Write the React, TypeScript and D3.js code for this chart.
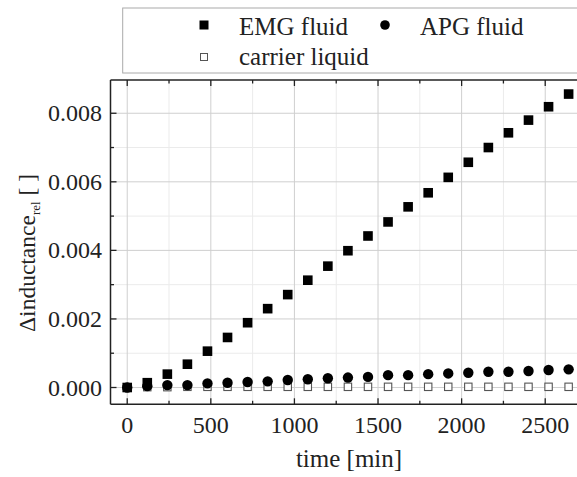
import React from "react";
import * as d3 from "d3";

const times = [0, 120, 240, 360, 480, 600, 720, 840, 960, 1080, 1200, 1320, 1440, 1560, 1680, 1800, 1920, 2040, 2160, 2280, 2400, 2520, 2640];
const emgFluid = [0, 0.00014, 0.00039, 0.00068, 0.00106, 0.00146, 0.00189, 0.0023, 0.00271, 0.00313, 0.00354, 0.00399, 0.00442, 0.00483, 0.00527, 0.00568, 0.00613, 0.00657, 0.007, 0.00743, 0.0078, 0.00819, 0.00856];
const apgFluid = [0, 0.00004, 0.00007, 0.00007, 0.00012, 0.00014, 0.00016, 0.00018, 0.00022, 0.00024, 0.00027, 0.00029, 0.00031, 0.00036, 0.00036, 0.00039, 0.00041, 0.00043, 0.00046, 0.00046, 0.00048, 0.00051, 0.00053];
const carrierLiquid = [0, 0.00001, 0.00001, 0.00002, 0.00002, 0.00002, 0.00002, 0.00002, 0.00002, 0.00002, 0.00002, 0.00002, 0.00002, 0.00002, 0.00002, 0.00002, 0.00002, 0.00002, 0.00002, 0.00002, 0.00002, 0.00002, 0.00002];
const xTicks = [0, 500, 1000, 1500, 2000, 2500];
const yTicks = [0, 0.002, 0.004, 0.006, 0.008];
const legendLabels = ["EMG fluid", "APG fluid", "carrier liquid"];

const FONT = "'Liberation Serif', 'Times New Roman', serif";

export default function App() {
  const W = 577, H = 477;
  const left = 110.5, top = 80, bottom = 404.3;
  const x = d3.scaleLinear().domain([-100, 2800]).range([left, left + 2900 * 0.1672]);
  const y = d3.scaleLinear().domain([-0.00049, 0.00897]).range([bottom, top]);
  const right = x(2800);

  const xMinor = d3.range(0, 2800, 250);
  const yMinor = d3.range(0, 0.009, 0.001);
  const isMajorX = (v: number) => Math.abs(v % 500) < 1e-6;
  const isMajorY = (v: number) => Math.abs(Math.round(v * 1000) % 2) === 0;

  const sq = 9.6;
  const osq = 7.4;

  return (
    <svg width={W} height={H} style={{ position: "absolute", left: 0, top: 0, background: "#fff" }} fontFamily={FONT}>
      <rect x={0} y={0} width={W} height={H} fill="#fff" />
      {/* minor grid */}
      {xMinor.filter((v) => !isMajorX(v)).map((v) => (
        <line key={"xm" + v} x1={x(v)} x2={x(v)} y1={top} y2={bottom} stroke="#ebebeb" strokeWidth={1} />
      ))}
      {yMinor.filter((v) => !isMajorY(v)).map((v) => (
        <line key={"ym" + v} x1={left} x2={right} y1={y(v)} y2={y(v)} stroke="#ebebeb" strokeWidth={1} />
      ))}
      {/* major grid */}
      {xTicks.map((v) => (
        <line key={"xg" + v} x1={x(v)} x2={x(v)} y1={top} y2={bottom} stroke="#cfcfcf" strokeWidth={1} />
      ))}
      {yTicks.map((v) => (
        <line key={"yg" + v} x1={left} x2={right} y1={y(v)} y2={y(v)} stroke="#cfcfcf" strokeWidth={1} />
      ))}
      {/* ticks */}
      {xMinor.map((v) => {
        const len = isMajorX(v) ? 6 : 3.5;
        return (
          <g key={"xt" + v}>
            <line x1={x(v)} x2={x(v)} y1={bottom} y2={bottom - len} stroke="#222" strokeWidth={1.3} />
            <line x1={x(v)} x2={x(v)} y1={top} y2={top + len} stroke="#222" strokeWidth={1.3} />
          </g>
        );
      })}
      {yMinor.map((v) => {
        const len = isMajorY(v) ? 6 : 3.5;
        return <line key={"yt" + v} x1={left} x2={left + len} y1={y(v)} y2={y(v)} stroke="#222" strokeWidth={1.3} />;
      })}
      {/* frame */}
      <line x1={left} x2={left} y1={top} y2={bottom} stroke="#222" strokeWidth={1.5} />
      <line x1={left} x2={right} y1={bottom} y2={bottom} stroke="#222" strokeWidth={1.5} />
      <line x1={left} x2={right} y1={top} y2={top} stroke="#222" strokeWidth={1.5} />
      {/* tick labels */}
      {xTicks.map((v) => (
        <text key={"xl" + v} x={x(v)} y={433} textAnchor="middle" fontSize={24} fill="#222">{v}</text>
      ))}
      {yTicks.map((v) => (
        <text key={"yl" + v} x={102} y={y(v) + 8} textAnchor="end" fontSize={24} fill="#222">{d3.format(".3f")(v)}</text>
      ))}
      {/* axis titles */}
      <text x={349} y={467} textAnchor="middle" fontSize={25} fill="#222">time [min]</text>
      <text transform={`translate(35, 253) rotate(-90)`} textAnchor="middle" fontSize={23.5} fill="#222">
        Δinductance<tspan fontSize={13} dy={5}>rel</tspan><tspan dy={-5}> [ ]</tspan>
      </text>
      {/* data */}
      {times.map((t, i) => (
        <rect key={"c" + i} x={x(t) - osq / 2} y={y(carrierLiquid[i]) - osq / 2} width={osq} height={osq} fill="#fff" stroke="#555" strokeWidth={1.1} />
      ))}
      {times.map((t, i) => (
        <circle key={"a" + i} cx={x(t)} cy={y(apgFluid[i])} r={5.2} fill="#000" />
      ))}
      {times.map((t, i) => (
        <rect key={"e" + i} x={x(t) - sq / 2} y={y(emgFluid[i]) - sq / 2} width={sq} height={sq} fill="#000" />
      ))}
      {/* legend */}
      <rect x={122.7} y={8} width={480} height={65} fill="#fff" stroke="#aaa" strokeWidth={1} />
      <rect x={204 - 4.5} y={25 - 4.5} width={9} height={9} fill="#000" />
      <text x={239} y={34.5} fontSize={25} fill="#222">{legendLabels[0]}</text>
      <circle cx={385} cy={25} r={4.8} fill="#000" />
      <text x={420} y={34.5} fontSize={25} fill="#222">{legendLabels[1]}</text>
      <rect x={204 - 3.5} y={57 - 3.5} width={7} height={7} fill="#fff" stroke="#555" strokeWidth={1} />
      <text x={239} y={64.5} fontSize={25} fill="#222">{legendLabels[2]}</text>
    </svg>
  );
}
